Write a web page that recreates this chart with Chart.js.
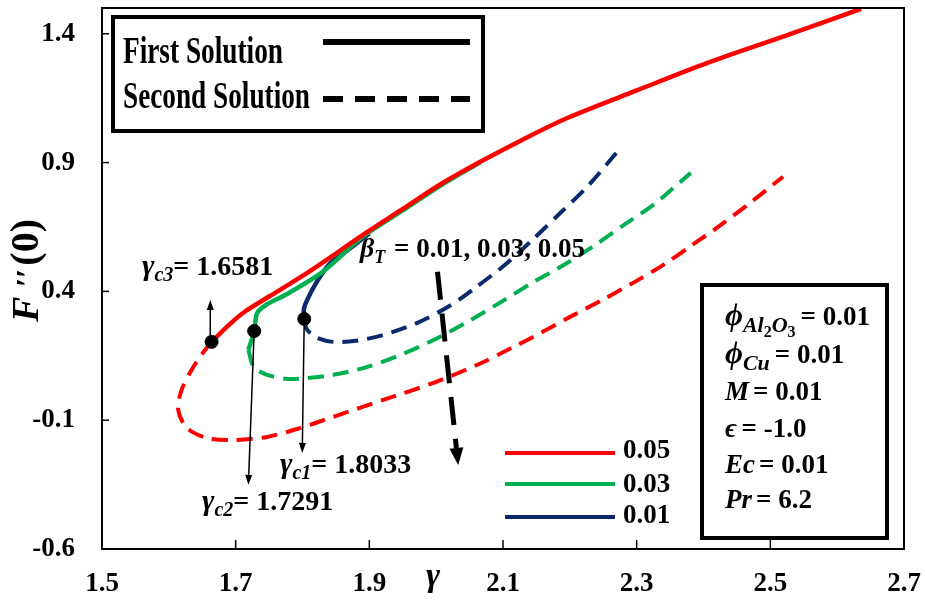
<!DOCTYPE html>
<html>
<head>
<meta charset="utf-8">
<script src="https://cdn.jsdelivr.net/npm/chart.js@4.4.1/dist/chart.umd.min.js"></script>
<style>
html,body{margin:0;padding:0;background:#fff;}
#wrap{width:925px;height:601px;position:relative;}
</style>
</head>
<body>
<div id="wrap"><canvas id="grafico"></canvas></div>
<script>
// ============================================================
// F''(0) vs gamma — dual solutions for beta_T = 0.01, 0.03, 0.05
// ============================================================

const xTicks = [1.5, 1.7, 1.9, 2.1, 2.3, 2.5, 2.7];
const yTicks = [-0.6, -0.1, 0.4, 0.9, 1.4];

// beta_T = 0.05 (red)
const redFirstX  = [1.664, 1.69, 1.714, 1.75, 1.80, 1.846, 1.886, 1.95, 2.006, 2.066, 2.13, 2.197, 2.3, 2.406, 2.52, 2.636];
const redFirstY  = [0.204, 0.270, 0.322, 0.380, 0.460, 0.540, 0.612, 0.72, 0.815, 0.903, 0.99, 1.074, 1.180, 1.287, 1.390, 1.497];
const redSecondX = [1.664, 1.651, 1.634, 1.619, 1.614, 1.627, 1.657, 1.696, 1.747, 1.797, 1.846, 1.921, 1.996, 2.066, 2.111, 2.156, 2.201, 2.251, 2.296, 2.340, 2.383, 2.426, 2.466, 2.519];
const redSecondY = [0.204, 0.161, 0.095, 0.017, -0.060, -0.130, -0.169, -0.177, -0.165, -0.130, -0.087, -0.021, 0.045, 0.120, 0.178, 0.238, 0.302, 0.370, 0.435, 0.503, 0.580, 0.658, 0.736, 0.845];

// beta_T = 0.03 (green)
const greenFirstX  = [1.719, 1.728, 1.732, 1.747, 1.777, 1.827, 1.86, 1.886, 1.95, 2.006, 2.066];
const greenFirstY  = [0.173, 0.246, 0.315, 0.350, 0.390, 0.470, 0.543, 0.605, 0.714, 0.810, 0.901];
const greenSecondX = [1.719, 1.727, 1.747, 1.782, 1.846, 1.897, 1.946, 1.996, 2.046, 2.101, 2.146, 2.194, 2.238, 2.281, 2.327, 2.381];
const greenSecondY = [0.173, 0.107, 0.076, 0.060, 0.076, 0.107, 0.153, 0.211, 0.280, 0.365, 0.437, 0.507, 0.580, 0.658, 0.740, 0.860];

// beta_T = 0.01 (blue)
const blueFirstX  = [1.803, 1.802, 1.807, 1.822, 1.840, 1.865, 1.9];
const blueFirstY  = [0.293, 0.330, 0.367, 0.440, 0.505, 0.555, 0.625];
const blueSecondX = [1.803, 1.806, 1.82, 1.846, 1.88, 1.921, 1.971, 2.021, 2.059, 2.104, 2.146, 2.186, 2.226, 2.271];
const blueSecondY = [0.293, 0.255, 0.222, 0.204, 0.208, 0.231, 0.277, 0.345, 0.415, 0.505, 0.605, 0.705, 0.806, 0.942];

// critical points gamma_c3, gamma_c2, gamma_c1
const critX = [1.664, 1.7277, 1.8026];
const critY = [0.204, 0.246, 0.293];

const RED = '#FF0000', GREEN = '#00B050', BLUE = '#0B2A6E';
const SERIF = '"Liberation Serif", "Times New Roman", serif';
const bold = s => `bold ${s}px ${SERIF}`;
const boldIt = s => `italic bold ${s}px ${SERIF}`;

const pts = (xs, ys) => xs.map((x, i) => ({ x, y: ys[i] }));

function serie(xs, ys, color, dashed) {
  return {
    data: pts(xs, ys), showLine: true, borderColor: color, backgroundColor: color,
    borderWidth: dashed ? 4 : 4.5, borderDash: dashed ? [16, 9] : [], borderCapStyle: 'butt',
    pointRadius: 0, tension: 0.3, fill: false
  };
}

function runText(ctx, x, y, parts) {
  let cx = x;
  for (const p of parts) {
    ctx.font = p.f;
    ctx.fillText(p.t, cx, y + (p.dy || 0));
    cx += ctx.measureText(p.t).width + (p.gap || 0);
  }
  return cx;
}

function squeezed(ctx, text, x, y, font, width) {
  ctx.save();
  ctx.font = font;
  const w = ctx.measureText(text).width;
  ctx.translate(x, y);
  ctx.scale(width / w, 1);
  ctx.fillText(text, 0, 0);
  ctx.restore();
}

function arrow(ctx, x1, y1, x2, y2, lw, hl, hw, dash) {
  const a = Math.atan2(y2 - y1, x2 - x1);
  const bx = x2 - hl * Math.cos(a), by = y2 - hl * Math.sin(a);
  ctx.save();
  ctx.lineWidth = lw; ctx.strokeStyle = '#000'; ctx.fillStyle = '#000';
  ctx.setLineDash(dash || []);
  ctx.beginPath(); ctx.moveTo(x1, y1); ctx.lineTo(bx, by); ctx.stroke();
  ctx.setLineDash([]);
  ctx.beginPath();
  ctx.moveTo(x2, y2);
  ctx.lineTo(bx + hw / 2 * Math.sin(a), by - hw / 2 * Math.cos(a));
  ctx.lineTo(bx - hw / 2 * Math.sin(a), by + hw / 2 * Math.cos(a));
  ctx.closePath(); ctx.fill();
  ctx.restore();
}

const anotaciones = {
  id: 'anotaciones',
  afterDraw(chart) {
    const { ctx, chartArea: a, scales: { x, y } } = chart;
    const X = v => x.getPixelForValue(v), Y = v => y.getPixelForValue(v);
    ctx.save();
    ctx.fillStyle = '#000'; ctx.strokeStyle = '#000'; ctx.textBaseline = 'alphabetic';

    // frame and inward ticks
    ctx.lineWidth = 2;
    ctx.strokeRect(a.left, a.top, a.right - a.left, a.bottom - a.top);
    ctx.lineWidth = 1.5;
    xTicks.forEach(v => { ctx.beginPath(); ctx.moveTo(X(v), a.bottom); ctx.lineTo(X(v), a.bottom - 9); ctx.stroke(); });
    yTicks.forEach(v => { ctx.beginPath(); ctx.moveTo(a.left, Y(v)); ctx.lineTo(a.left + 7, Y(v)); ctx.stroke(); });

    // axis titles
    runText(ctx, 426, 586, [{ t: 'γ', f: boldIt(34) }]);
    ctx.save();
    ctx.translate(38, 322); ctx.rotate(-Math.PI / 2);
    runText(ctx, 0, 0, [
      { t: 'F', f: boldIt(38), gap: 10 },
      { t: '′′', f: bold(32), gap: 3 },
      { t: '(0)', f: bold(40) }
    ]);
    ctx.restore();

    // solution-type legend
    ctx.lineWidth = 4;
    ctx.strokeRect(113, 17, 370, 114);
    squeezed(ctx, 'First Solution', 123, 63, bold(38), 160);
    squeezed(ctx, 'Second Solution', 123, 108, bold(38), 187);
    ctx.lineWidth = 6;
    ctx.beginPath(); ctx.moveTo(323, 42); ctx.lineTo(470, 42); ctx.stroke();
    ctx.setLineDash([20, 12]);
    ctx.beginPath(); ctx.moveTo(323, 99); ctx.lineTo(470, 99); ctx.stroke();
    ctx.setLineDash([]);

    // beta_T legend
    [[RED, '0.05', 453, 458], [GREEN, '0.03', 484, 492], [BLUE, '0.01', 517, 523]].forEach(([c, t, ly, ty]) => {
      ctx.strokeStyle = c; ctx.lineWidth = 4;
      ctx.beginPath(); ctx.moveTo(505, ly); ctx.lineTo(615, ly); ctx.stroke();
      ctx.fillStyle = '#000';
      runText(ctx, 623, ty, [{ t, f: bold(27) }]);
    });
    ctx.strokeStyle = '#000';

    // parameter box
    ctx.lineWidth = 4;
    ctx.strokeRect(702, 285, 185, 253);
    runText(ctx, 725, 325, [
      { t: 'ϕ', f: boldIt(31) }, { t: 'Al', f: boldIt(22), dy: 7 }, { t: '2', f: bold(16), dy: 12 },
      { t: 'O', f: boldIt(22), dy: 7 }, { t: '3', f: bold(16), dy: 12, gap: 5 }, { t: '= 0.01', f: bold(27) }
    ]);
    runText(ctx, 725, 363, [{ t: 'ϕ', f: boldIt(31) }, { t: 'Cu', f: boldIt(22), dy: 7, gap: 5 }, { t: '= 0.01', f: bold(27) }]);
    runText(ctx, 725, 400, [{ t: 'M', f: boldIt(27), gap: 4 }, { t: '= 0.01', f: bold(27) }]);
    runText(ctx, 725, 437, [{ t: 'ϵ', f: boldIt(27), gap: 5 }, { t: '= -1.0', f: bold(27) }]);
    runText(ctx, 725, 473, [{ t: 'Ec', f: boldIt(27), gap: 4 }, { t: '= 0.01', f: bold(27) }]);
    runText(ctx, 725, 508, [{ t: 'Pr', f: boldIt(27), gap: 4 }, { t: '= 6.2', f: bold(27) }]);

    // beta_T label and direction arrow
    runText(ctx, 360, 257, [{ t: 'β', f: boldIt(28) }, { t: 'T', f: boldIt(18), dy: 6, gap: 2 }, { t: ' = 0.01, 0.03, 0.05', f: bold(27) }]);
    arrow(ctx, X(2.002), Y(0.476), X(2.033), Y(-0.274), 5, 17, 14, [28, 14]);

    // critical point labels and arrows
    arrow(ctx, X(1.662), Y(0.204), X(1.662), Y(0.367), 1.5, 10, 7);
    arrow(ctx, X(1.7277), Y(0.246), X(1.719), Y(-0.351), 1.5, 10, 7);
    arrow(ctx, X(1.8026), Y(0.293), X(1.7996), Y(-0.227), 1.5, 10, 7);
    const gl = [['c3', '= 1.6581', 142, 275], ['c2', '= 1.7291', 202, 510], ['c1', '= 1.8033', 280, 473]];
    gl.forEach(([s, t, lx, ly]) => runText(ctx, lx, ly, [{ t: 'γ', f: boldIt(30) }, { t: s, f: boldIt(20), dy: 6 }, { t, f: bold(28) }]));

    ctx.restore();
  }
};

new Chart(document.getElementById('grafico'), {
  type: 'scatter',
  data: {
    datasets: [
      { data: pts(critX, critY), pointRadius: 6.5, backgroundColor: '#000', borderColor: '#000', showLine: false },
      serie(redFirstX, redFirstY, RED, false),
      serie(redSecondX, redSecondY, RED, true),
      serie(greenFirstX, greenFirstY, GREEN, false),
      serie(greenSecondX, greenSecondY, GREEN, true),
      serie(blueFirstX, blueFirstY, BLUE, false),
      serie(blueSecondX, blueSecondY, BLUE, true)
    ]
  },
  options: {
    responsive: true, maintainAspectRatio: false, animation: false, devicePixelRatio: 1,
    layout: { padding: { top: 8, right: 21, left: 0, bottom: 0 } },
    plugins: { legend: { display: false }, tooltip: { enabled: false } },
    scales: {
      x: {
        type: 'linear', min: 1.5, max: 2.7,
        afterBuildTicks: s => { s.ticks = xTicks.map(v => ({ value: v })); },
        afterFit: s => { s.height = 52; s.paddingLeft = 0; s.paddingRight = 0; },
        ticks: { color: '#000', padding: 19, font: { family: SERIF, size: 27, weight: 'bold' }, callback: v => v.toFixed(1), maxRotation: 0 },
        grid: { display: false, drawTicks: false }, border: { display: false }
      },
      y: {
        type: 'linear', min: -0.6, max: 1.5,
        afterBuildTicks: s => { s.ticks = yTicks.map(v => ({ value: v })); },
        afterFit: s => { s.width = 102; s.paddingTop = 0; s.paddingBottom = 0; },
        ticks: { color: '#000', padding: 27, font: { family: SERIF, size: 27, weight: 'bold' }, callback: v => v.toFixed(1) },
        grid: { display: false, drawTicks: false }, border: { display: false }
      }
    }
  },
  plugins: [anotaciones]
});
</script>
</body>
</html>
